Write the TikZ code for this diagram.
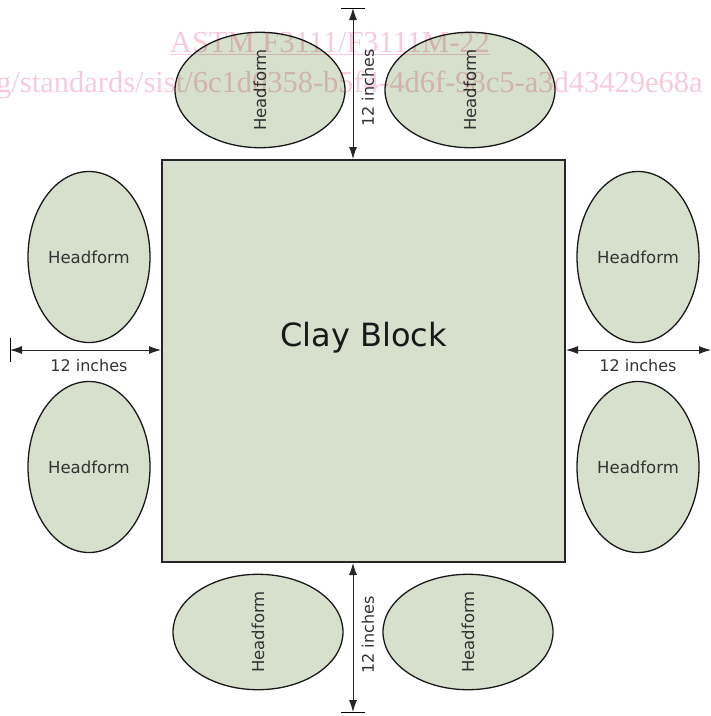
\documentclass[tikz,border=0pt]{standalone}
\usepackage{fontspec}
\setmainfont{DejaVu Sans}
\newfontfamily\markfont{Liberation Serif}
\usetikzlibrary{arrows.meta,shapes.geometric}

\definecolor{clay}{RGB}{214,224,204}
\definecolor{markpink}{RGB}{247,204,215}

\tikzset{
  head/.style={ellipse,draw=black!90,line width=1.3pt,fill=clay,inner sep=0pt,
    font=\fontsize{16.5}{16.5}\selectfont,text=black!80},
  headtall/.style={head,minimum width=122pt,minimum height=171pt},
  headwide/.style={head,minimum width=115pt,minimum height=170pt},
  dim/.style={{Latex[length=12pt,width=8pt]}-{Latex[length=12pt,width=8pt]},line width=0.9pt,black!85},
  dimlabel/.style={font=\fontsize{16}{16}\selectfont,text=black!80,inner sep=0pt},
  watermark/.style={text=markpink,font=\markfont\fontsize{30.5}{30.5}\selectfont,inner sep=0pt}
}

\begin{document}
\begin{tikzpicture}[x=1pt,y=-1pt]
  \useasboundingbox (0,0) rectangle (711,716);

  % clay block
  \node[draw=black!85,line width=2pt,fill=clay,minimum width=403pt,minimum height=402pt] (block) at (363.5,361) {};
  \node[font=\fontsize{32}{32}\selectfont,text=black!90] (claytext) at ([yshift=23pt]block.center) {Clay Block};

  % headforms
  \foreach \cy [count=\i] in {257,467} {
    \node[headtall] (headL\i) at (89,\cy) {Headform};
    \node[headtall] (headR\i) at (638,\cy) {Headform};
  }
  \foreach \cx [count=\i] in {260,470} {
    \node[headwide,rotate=90] (headT\i) at (\cx,90) {Headform};
    \node[headwide,rotate=90] (headB\i) at (\cx-2,632) {Headform};
  }

  % 12 inch spacing
  \coordinate (toptick) at (353,8);
  \coordinate (bottick) at (353,712);
  \coordinate (lefttick) at (10,350);
  \coordinate (rightend) at (711,350);
  \draw[dim] (toptick) -- (toptick |- block.north);
  \draw[dim] (bottick |- block.south) -- (bottick);
  \draw[dim] (lefttick) -- (lefttick -| block.west);
  \draw[dim] (rightend -| block.east) -- (rightend);
  \draw[line width=0.9pt] ([xshift=-12pt]toptick) -- ([xshift=12pt]toptick);
  \draw[line width=0.9pt] ([xshift=-12pt]bottick) -- ([xshift=12pt]bottick);
  \draw[line width=0.9pt] ([yshift=-12pt]lefttick) -- ([yshift=12pt]lefttick);
  \node[dimlabel,rotate=90] (toplabel) at (368,88) {12 inches};
  \node[dimlabel,rotate=90] (botlabel) at (368,635) {12 inches};
  \node[dimlabel] (leftlabel) at (89,366) {12 inches};
  \node[dimlabel] (rightlabel) at (638,366) {12 inches};

  % watermark on top
  \begin{scope}[blend mode=multiply]
    \node[watermark] (mark1) at (330,44) {\underline{ASTM F3111/F3111M-22}};
    \node[watermark,anchor=base west] (mark2) at (-4,92) {g/standards/sist/6c1d0358-b5f4-4d6f-98c5-a3d43429e68a};
  \end{scope}
\end{tikzpicture}
\end{document}
